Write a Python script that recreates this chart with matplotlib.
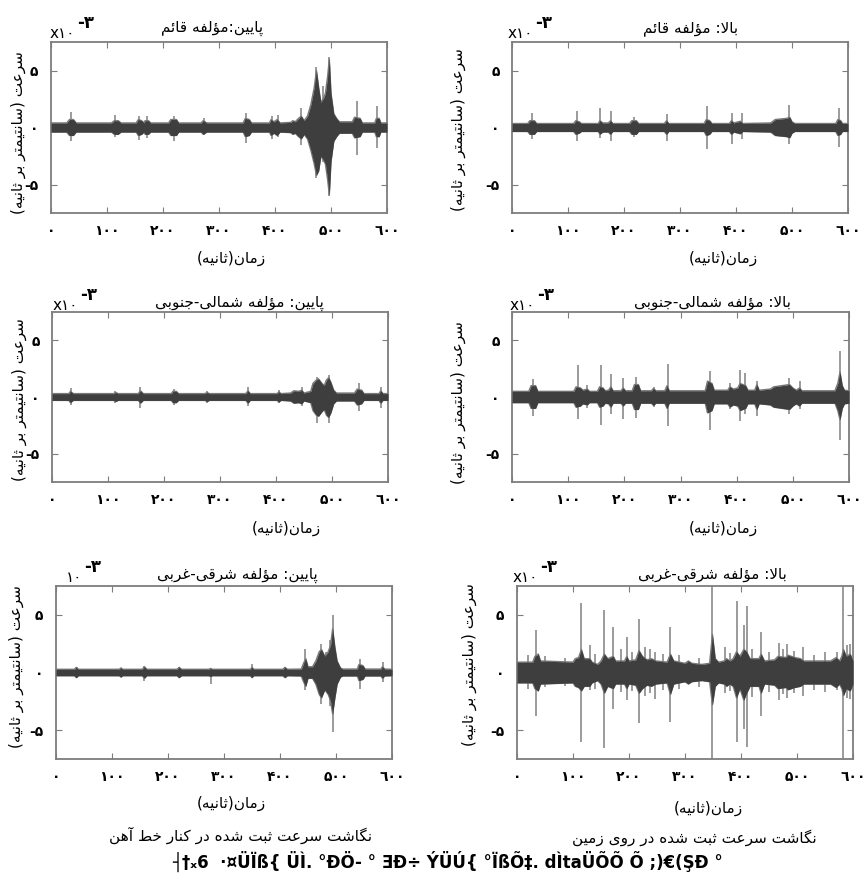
import matplotlib
matplotlib.use("Agg")
import matplotlib.pyplot as plt

plt.rcParams['font.family'] = ['DejaVu Sans']

# ---------------- data (velocity x 1e-3, time in s) ----------------
# rail side, vertical
rz_t = [0,28,33,40,45,108,113,120,125,152,156,162,166,168,174,178,210,214,224,228,268,272,278,343,347,354,358,390,393,398,404,409,428,432,436,442,447,452,458,464,470,474,478,482,486,490,494,497,500,505,510,515,538,542,552,556,578,581,586,589,600]
rz_up = [0.4,0.4,0.7,0.7,0.4,0.4,0.6,0.6,0.4,0.4,0.7,0.6,0.4,0.6,0.6,0.4,0.4,0.7,0.7,0.4,0.4,0.6,0.4,0.4,0.8,0.7,0.4,0.4,0.7,0.5,0.7,0.4,0.45,0.6,0.5,0.8,1.0,0.6,1.0,2.0,3.5,5.0,3.5,2.2,2.5,3.0,4.5,6.0,3.0,1.2,0.8,0.5,0.5,0.9,0.8,0.4,0.4,0.8,0.8,0.4,0.4]
rz_lo = [-0.4,-0.4,-0.7,-0.7,-0.4,-0.4,-0.6,-0.6,-0.4,-0.4,-0.7,-0.6,-0.4,-0.6,-0.6,-0.4,-0.4,-0.7,-0.7,-0.4,-0.4,-0.6,-0.4,-0.4,-0.8,-0.7,-0.4,-0.4,-0.7,-0.5,-0.7,-0.4,-0.45,-0.6,-0.5,-0.8,-1.0,-0.6,-1.0,-2.0,-3.2,-4.2,-3.8,-2.5,-2.8,-3.2,-4.6,-5.9,-3.0,-1.2,-0.8,-0.5,-0.5,-0.9,-0.8,-0.4,-0.4,-0.8,-0.8,-0.4,-0.4]
rz_spk_t = [36,115,158,171,219,273,349,394,406,446,473,485,497,546,583]
rz_spk_up = [1.4,1.1,1.0,1.0,1.0,0.8,1.25,1.0,1.1,1.7,5.35,3.6,6.2,2.3,1.85]
rz_spk_lo = [-1.2,-0.8,-1.1,-0.9,-1.2,-0.7,-1.4,-1.0,-0.8,-1.5,-4.4,-3.0,-6.05,-2.4,-1.8]

# ground, vertical
gz_t = [0,28,32,40,44,110,114,120,124,154,157,162,172,176,180,210,214,222,226,272,276,280,343,347,353,357,388,392,396,408,412,462,470,490,496,500,505,578,582,587,590,600]
gz_up = [0.35,0.35,0.6,0.6,0.35,0.35,0.6,0.5,0.35,0.35,0.6,0.4,0.4,0.6,0.35,0.35,0.6,0.6,0.35,0.35,0.6,0.35,0.35,0.7,0.6,0.35,0.35,0.6,0.4,0.55,0.35,0.4,0.7,0.8,0.9,0.5,0.35,0.35,0.7,0.6,0.35,0.35]
gz_lo = [-0.35,-0.35,-0.6,-0.6,-0.35,-0.35,-0.6,-0.5,-0.35,-0.35,-0.6,-0.4,-0.4,-0.6,-0.35,-0.35,-0.6,-0.6,-0.35,-0.35,-0.6,-0.35,-0.35,-0.7,-0.6,-0.35,-0.35,-0.6,-0.4,-0.55,-0.35,-0.4,-0.7,-0.8,-0.9,-0.5,-0.35,-0.35,-0.7,-0.6,-0.35,-0.35]
gz_spk_t = [35,116,158,176,217,276,348,392,410,495,584]
gz_spk_up = [1.3,1.45,1.7,1.45,0.9,1.15,1.9,1.3,1.3,2.0,1.7]
gz_spk_lo = [-1.0,-1.15,-0.9,-1.15,-0.8,-1.15,-1.9,-1.45,-1.0,-1.45,-1.7]

# rail side, north-south
rn_t = [0,30,33,38,110,114,118,154,158,163,213,216,222,226,273,277,281,346,350,354,402,405,409,426,432,440,446,450,462,466,472,476,482,486,490,494,498,503,508,540,545,553,557,584,587,591,600]
rn_up = [0.3,0.3,0.5,0.3,0.3,0.4,0.3,0.3,0.55,0.3,0.3,0.5,0.5,0.3,0.3,0.4,0.3,0.3,0.55,0.3,0.3,0.45,0.3,0.35,0.55,0.5,0.6,0.35,0.5,1.2,1.5,1.6,1.2,1.0,1.5,1.7,1.3,0.6,0.35,0.35,0.7,0.6,0.3,0.3,0.55,0.3,0.3]
rn_lo = [-0.3,-0.3,-0.5,-0.3,-0.3,-0.4,-0.3,-0.3,-0.55,-0.3,-0.3,-0.5,-0.5,-0.3,-0.3,-0.4,-0.3,-0.3,-0.55,-0.3,-0.3,-0.45,-0.3,-0.35,-0.55,-0.5,-0.6,-0.35,-0.5,-1.2,-1.6,-1.7,-1.3,-1.1,-1.6,-1.8,-1.4,-0.6,-0.35,-0.35,-0.7,-0.6,-0.3,-0.3,-0.55,-0.3,-0.3]
rn_spk_t = [34,113,158,217,277,350,405,447,474,495,549,588]
rn_spk_up = [0.8,0.5,0.85,0.7,0.5,0.85,0.6,0.85,1.8,1.95,1.2,0.85]
rn_spk_lo = [-0.7,-0.5,-1.0,-0.7,-0.5,-0.8,-0.5,-0.8,-2.3,-2.3,-1.25,-0.95]

# ground, north-south
gn_t = [0,30,34,42,46,110,114,122,126,134,138,152,156,162,166,172,176,180,194,198,202,214,218,225,229,248,252,256,272,276,280,344,348,356,360,384,388,394,402,406,416,420,432,436,440,460,466,480,494,500,506,512,516,575,580,584,588,592,600]
gn_up = [0.5,0.5,1.0,1.0,0.5,0.5,0.9,0.8,0.6,0.7,0.5,0.5,0.9,0.8,0.55,0.6,0.9,0.55,0.55,0.8,0.55,0.55,1.1,1.1,0.55,0.55,0.75,0.55,0.55,1.0,0.55,0.55,1.4,1.2,0.6,0.6,0.9,0.7,0.8,1.2,1.0,0.6,0.6,1.1,0.6,0.7,0.9,1.0,1.1,0.8,0.6,0.8,0.55,0.55,1.2,2.2,1.0,0.6,0.55]
gn_lo = [-0.5,-0.5,-1.0,-1.0,-0.5,-0.5,-0.9,-0.8,-0.6,-0.7,-0.5,-0.5,-0.9,-0.8,-0.55,-0.6,-0.9,-0.55,-0.55,-0.8,-0.55,-0.55,-1.1,-1.1,-0.55,-0.55,-0.75,-0.55,-0.55,-1.0,-0.55,-0.55,-1.4,-1.2,-0.6,-0.6,-0.9,-0.7,-0.8,-1.2,-1.0,-0.6,-0.6,-1.1,-0.6,-0.7,-0.9,-1.0,-1.1,-0.8,-0.6,-0.8,-0.55,-0.55,-1.2,-2.0,-1.0,-0.6,-0.55]
gn_spk_t = [38,118,133,158,176,198,221,252,277,352,388,406,415,436,494,513,584]
gn_spk_up = [1.55,2.85,1.1,2.85,2.0,1.7,1.8,0.9,2.9,2.3,1.25,2.4,2.1,1.4,1.7,1.4,4.1]
gn_spk_lo = [-1.65,-1.95,-1.0,-2.5,-1.5,-1.95,-1.85,-0.9,-2.6,-2.9,-1.1,-2.1,-1.5,-1.65,-1.5,-1.1,-3.8]

# rail side, east-west
re_t = [0,33,36,40,113,116,119,154,158,162,216,220,224,273,276,279,347,350,353,405,409,413,438,442,446,450,458,464,470,474,480,486,490,494,498,502,508,512,538,541,548,552,580,583,587,600]
re_up = [0.28,0.28,0.45,0.28,0.28,0.4,0.28,0.28,0.5,0.28,0.28,0.45,0.28,0.28,0.35,0.28,0.28,0.45,0.28,0.28,0.45,0.28,0.3,0.8,1.2,0.5,0.5,1.0,1.8,2.0,1.4,1.8,2.3,3.8,2.2,1.0,0.4,0.3,0.3,0.7,0.6,0.3,0.3,0.5,0.3,0.28]
re_lo = [-0.28,-0.28,-0.45,-0.28,-0.28,-0.4,-0.28,-0.28,-0.5,-0.28,-0.28,-0.45,-0.28,-0.28,-0.35,-0.28,-0.28,-0.45,-0.28,-0.28,-0.45,-0.28,-0.3,-0.8,-1.2,-0.5,-0.5,-1.0,-1.9,-2.2,-1.5,-1.9,-2.4,-3.6,-2.2,-1.0,-0.4,-0.3,-0.3,-0.7,-0.6,-0.3,-0.3,-0.5,-0.3,-0.28]
re_spk_t = [37,116,158,220,276,350,409,445,473,482,489,495,543,584]
re_spk_up = [0.5,0.4,0.6,0.45,0.4,0.7,0.5,2.05,2.5,1.8,2.8,4.95,1.2,0.9]
re_spk_lo = [-0.5,-0.4,-0.7,-0.45,-1.0,-0.5,-0.5,-1.55,-2.7,-1.5,-2.9,-5.2,-1.4,-0.85]

# ground, east-west
ge_t = [0,28,32,38,42,100,104,110,115,120,130,134,144,150,156,162,172,176,192,196,200,212,218,224,232,240,248,268,274,280,300,306,312,330,344,349,354,360,370,374,380,386,392,398,405,410,416,432,436,442,460,466,480,484,496,506,512,560,570,576,580,583,588,595,600]
ge_up = [0.9,0.9,1.4,1.6,1.0,0.9,1.2,1.3,2.0,1.2,1.2,0.9,0.7,1.0,1.6,1.2,1.4,1.0,1.0,1.4,1.0,1.1,1.9,1.4,1.1,1.2,1.0,0.9,1.6,1.0,0.8,1.0,0.8,0.7,0.8,3.3,1.2,0.9,1.0,1.2,1.0,1.2,1.8,1.4,2.0,1.8,1.2,1.2,1.6,1.0,1.1,1.4,1.3,1.5,1.3,1.2,1.0,1.0,1.3,1.0,1.4,2.0,1.4,1.6,1.0]
ge_lo = [-0.9,-0.9,-1.4,-1.6,-1.0,-0.9,-1.2,-1.3,-1.6,-1.2,-1.2,-0.9,-0.7,-1.0,-1.8,-1.2,-1.4,-1.0,-1.0,-1.4,-1.0,-1.1,-1.8,-1.4,-1.1,-1.2,-1.0,-0.9,-1.9,-1.0,-0.8,-1.0,-0.8,-0.7,-0.8,-2.8,-1.2,-0.9,-1.0,-1.2,-1.0,-1.2,-2.2,-1.4,-2.4,-1.8,-1.2,-1.2,-1.8,-1.0,-1.1,-1.4,-1.3,-1.5,-1.3,-1.2,-1.0,-1.0,-1.3,-1.0,-1.4,-2.0,-1.4,-1.6,-1.0]
ge_spk_t = [20,34,50,85,115,130,140,156,172,185,196,205,218,228,237,246,260,274,290,325,349,372,380,392,405,410,420,436,450,467,475,483,495,510,530,550,571,583,590,595]
ge_spk_up = [1.5,3.65,1.4,1.3,6.0,2.35,1.6,5.4,3.95,2.0,3.07,1.8,4.6,2.2,2.05,1.75,1.6,3.95,1.5,1.3,8.0,2.2,1.7,6.2,4.1,5.8,2.0,3.5,1.8,2.6,2.0,2.5,1.9,2.2,1.5,1.8,1.75,8.0,2.4,2.5]
ge_spk_lo = [-1.4,-3.75,-1.3,-1.2,-6.05,-1.5,-1.4,-6.55,-3.15,-1.7,-2.4,-1.6,-4.4,-2.0,-1.8,-2.3,-1.5,-4.3,-1.4,-1.3,-8.0,-1.8,-1.6,-6.0,-4.9,-6.5,-2.1,-3.8,-1.7,-2.4,-1.9,-2.2,-1.8,-2.0,-1.5,-1.7,-1.5,-8.0,-2.2,-2.3]

x_ticks = [0, 100, 200, 300, 400, 500, 600]
x_tick_labels = ['٠', '١٠٠', '٢٠٠', '٣٠٠', '۴٠٠', '۵٠٠', '٦٠٠']
y_ticks = [-5, 0, 5]
y_tick_labels = ['-۵', '٠', '۵']

titles = ['پایین:مؤلفه قائم', 'بالا: مؤلفه قائم',
          'پایین: مؤلفه شمالی-جنوبی', 'بالا: مؤلفه شمالی-جنوبی',
          'پایین: مؤلفه شرقی-غربی', 'بالا: مؤلفه شرقی-غربی']
xlabel_text = 'زمان(ثانیه)'
ylabel_text = 'سرعت (سانتیمتر بر ثانیه)'
caption_left = 'نگاشت سرعت ثبت شده در کنار خط آهن'
caption_right = 'نگاشت سرعت ثبت شده در روی زمین'
garbled = '┤†ₓ6  ·¤ÜÏß{ ÜÌ. °ÐÖ- ° ƎÐ÷ ÝÜÚ{ °ÏßÕ‡. dÌtaÜÕÕ Õ ;)€(ŞÐ °'

# ---------------- Persian shaping (presentation forms, visual order) ----------------
FORMS = {
    'ا': ('\uFE8D', '\uFE8E'), 'آ': ('\uFE81', '\uFE82'),
    'ب': ('\uFE8F', '\uFE90', '\uFE91', '\uFE92'), 'پ': ('\uFB56', '\uFB57', '\uFB58', '\uFB59'),
    'ت': ('\uFE95', '\uFE96', '\uFE97', '\uFE98'), 'ث': ('\uFE99', '\uFE9A', '\uFE9B', '\uFE9C'),
    'ج': ('\uFE9D', '\uFE9E', '\uFE9F', '\uFEA0'), 'خ': ('\uFEA5', '\uFEA6', '\uFEA7', '\uFEA8'),
    'د': ('\uFEA9', '\uFEAA'), 'ر': ('\uFEAD', '\uFEAE'), 'ز': ('\uFEAF', '\uFEB0'),
    'س': ('\uFEB1', '\uFEB2', '\uFEB3', '\uFEB4'), 'ش': ('\uFEB5', '\uFEB6', '\uFEB7', '\uFEB8'),
    'ط': ('\uFEC1', '\uFEC2', '\uFEC3', '\uFEC4'), 'ع': ('\uFEC9', '\uFECA', '\uFECB', '\uFECC'),
    'غ': ('\uFECD', '\uFECE', '\uFECF', '\uFED0'), 'ف': ('\uFED1', '\uFED2', '\uFED3', '\uFED4'),
    'ق': ('\uFED5', '\uFED6', '\uFED7', '\uFED8'), 'ک': ('\uFB8E', '\uFB8F', '\uFB90', '\uFB91'),
    'گ': ('\uFB92', '\uFB93', '\uFB94', '\uFB95'), 'ل': ('\uFEDD', '\uFEDE', '\uFEDF', '\uFEE0'),
    'م': ('\uFEE1', '\uFEE2', '\uFEE3', '\uFEE4'), 'ن': ('\uFEE5', '\uFEE6', '\uFEE7', '\uFEE8'),
    'ه': ('\uFEE9', '\uFEEA', '\uFEEB', '\uFEEC'), 'و': ('\uFEED', '\uFEEE'),
    'ؤ': ('\uFE85', '\uFE86'), 'ی': ('\uFBFC', '\uFBFD', '\uFBFE', '\uFBFF'),
    'ئ': ('\uFE89', '\uFE8A', '\uFE8B', '\uFE8C'),
}
LAMALEF = {'ا': ('\uFEFB', '\uFEFC'), 'آ': ('\uFEF5', '\uFEF6')}
MIRROR = {'(': ')', ')': '('}


def fa(s):
    ch = list(s)
    n = len(ch)
    res = []
    i = 0
    while i < n:
        c = ch[i]
        if c not in FORMS:
            res.append(c)
            i += 1
            continue
        prev = ch[i - 1] if i > 0 else None
        cp = prev in FORMS and len(FORMS[prev]) == 4
        if c == 'ل' and i + 1 < n and ch[i + 1] in LAMALEF:
            lig = LAMALEF[ch[i + 1]]
            res.append(lig[1] if cp else lig[0])
            i += 2
            continue
        nxt = ch[i + 1] if i + 1 < n else None
        cn = len(FORMS[c]) == 4 and nxt in FORMS
        f = FORMS[c]
        if cp and cn:
            res.append(f[3])
        elif cp:
            res.append(f[1])
        elif cn:
            res.append(f[2])
        else:
            res.append(f[0])
        i += 1
    return ''.join(MIRROR.get(c, c) for c in reversed(res))


# ---------------- figure ----------------
W, H = 867, 884
fig = plt.figure(figsize=(W / 100, H / 100), dpi=100)


def fx(x):
    return x / W


def fy(y):
    return 1 - y / H


# pixel boxes: left, top, right, bottom
boxes = [(51, 42, 387, 213), (512, 42, 848, 213),
         (52, 312, 388, 482), (512, 312, 849, 482),
         (56, 586, 392, 759), (517, 586, 853, 759)]

panels = [
    (rz_t, rz_up, rz_lo, rz_spk_t, rz_spk_up, rz_spk_lo),
    (gz_t, gz_up, gz_lo, gz_spk_t, gz_spk_up, gz_spk_lo),
    (rn_t, rn_up, rn_lo, rn_spk_t, rn_spk_up, rn_spk_lo),
    (gn_t, gn_up, gn_lo, gn_spk_t, gn_spk_up, gn_spk_lo),
    (re_t, re_up, re_lo, re_spk_t, re_spk_up, re_spk_lo),
    (ge_t, ge_up, ge_lo, ge_spk_t, ge_spk_up, ge_spk_lo),
]

title_pos = [(212, 28), (691, 28), (239, 303), (713, 303), (237, 575), (712, 575)]
xlabel_pos = [(231, 258), (723, 258), (286, 528), (723, 528), (231, 803), (708, 808)]
ylabel_pos = [(18, 133), (458, 130), (19, 400), (458, 403), (16, 667), (469, 665)]
exp_pos = [(50, 33), (508, 33), (53, 305), (510, 305), (66, 577), (513, 577)]

frame_col = '#7d7d7d'
core_col = '#3e3e3e'
spike_col = '#8a8a8a'

for k, (box, data) in enumerate(zip(boxes, panels)):
    l, t, r, b = box
    ax = fig.add_axes([fx(l), fy(b), (r - l) / W, (b - t) / H])
    et, eu, el, st, su, sl = data
    ax.vlines(st, sl, su, color=spike_col, lw=1.2, zorder=1)
    ax.plot(et, eu, color='#7a7a7a', lw=1.0, zorder=2)
    ax.plot(et, el, color='#7a7a7a', lw=1.0, zorder=2)
    ax.fill_between(et, el, eu, color=core_col, lw=0, zorder=3)
    ax.set_xlim(0, 600)
    ax.set_ylim(-7.5, 7.5)
    ax.set_xticks(x_ticks)
    ax.set_xticklabels(x_tick_labels, fontsize=10, fontweight='bold')
    ax.set_yticks(y_ticks)
    ax.set_yticklabels(y_tick_labels, fontsize=10, fontweight='bold')
    ax.tick_params(direction='in', top=True, right=True, length=4, width=0.8,
                   color=frame_col)
    ax.tick_params(axis='x', pad=8)
    ax.tick_params(axis='y', pad=9)
    for sp in ax.spines.values():
        sp.set_color(frame_col)
        sp.set_linewidth(1.3)

    tx, ty = title_pos[k]
    fig.text(fx(tx), fy(ty), fa(titles[k]), ha='center', va='center', fontsize=11)
    xx, xy = xlabel_pos[k]
    fig.text(fx(xx), fy(xy), fa(xlabel_text), ha='center', va='center', fontsize=11)
    yx, yy = ylabel_pos[k]
    fig.text(fx(yx), fy(yy), fa(ylabel_text), ha='center', va='center',
             rotation=90, fontsize=11)
    ex, ey = exp_pos[k]
    base = '١٠' if k == 4 else 'x١٠'
    t1 = fig.text(fx(ex), fy(ey), base, ha='left', va='center', fontsize=11)
    fig.canvas.draw()
    bb = t1.get_window_extent()
    fig.text(bb.x1 / fig.dpi / fig.get_figwidth() + 0.002, fy(ey - 10), '-٣',
             ha='left', va='center', fontsize=12, fontweight='bold')

fig.text(fx(241), fy(835), fa(caption_left), ha='center', va='center', fontsize=11)
fig.text(fx(694), fy(838), fa(caption_right), ha='center', va='center', fontsize=11)
fig.text(fx(448), fy(861), garbled, ha='center', va='center', fontsize=12,
         fontweight='bold')

fig.savefig('out.png', dpi=100)
